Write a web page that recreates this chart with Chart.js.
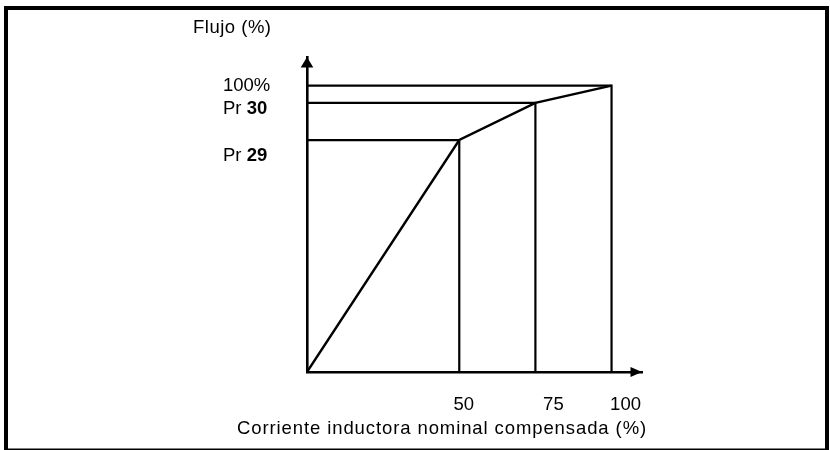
<!DOCTYPE html>
<html>
<head>
<meta charset="utf-8">
<script src="https://cdn.jsdelivr.net/npm/chart.js@4.4.1/dist/chart.umd.min.js"></script>
<style>
  html, body { margin: 0; padding: 0; background: #fff; }
  #wrap { width: 830px; height: 450px; }
</style>
</head>
<body>
<div id="wrap"><canvas id="chart"></canvas></div>
<script>
// curve breakpoints (schematic: Pr 29 / Pr 30)
const currentPct = [0, 50, 75, 100];
const fluxPct = [0, 81, 94, 100];

// tick labels
const xTickValues = [50, 75, 100];
const xTickLabels = ['50', '75', '100'];
const yTickValues = [100, 94, 81];
const yTickPrefix = ['100%', 'Pr ', 'Pr '];
const yTickBold = ['', '30', '29'];

const yTitle = 'Flujo (%)';
const xTitle = 'Corriente inductora nominal compensada (%)';

const FONT = "'Liberation Sans', Arial, sans-serif";

const curve = currentPct.map((x, i) => ({ x: x, y: fluxPct[i] }));

// L-shaped guide from the y axis to each breakpoint and down to the x axis
const guides = currentPct.slice(1).map((x, i) => ({
    data: [{ x: 0, y: fluxPct[i + 1] }, { x: x, y: fluxPct[i + 1] }, { x: x, y: 0 }],
    borderColor: '#000',
    borderWidth: 2.2,
    pointRadius: 0,
    showLine: true,
    borderJoinStyle: 'miter'
}));

// arrows, labels and the frame round the figure
const decorations = {
    id: 'decorations',
    afterDraw(chart) {
        const ctx = chart.ctx;
        const xs = chart.scales.x;
        const ys = chart.scales.y;
        const area = chart.chartArea;
        const x0 = xs.getPixelForValue(0);
        const y0 = ys.getPixelForValue(0);
        // the drawing puts its labels a little off the lines
        const yNudge = [5, 11.5, 20.5];
        const xNudge = [4.5, 18, 14];

        ctx.save();
        ctx.fillStyle = '#000';

        // y arrow
        ctx.beginPath();
        ctx.moveTo(x0, area.top);
        ctx.lineTo(x0 - 6.3, area.top + 10.5);
        ctx.lineTo(x0 + 6.3, area.top + 10.5);
        ctx.closePath();
        ctx.fill();

        // x arrow
        ctx.beginPath();
        ctx.moveTo(area.right, y0);
        ctx.lineTo(area.right - 11.5, y0 - 5);
        ctx.lineTo(area.right - 11.5, y0 + 5);
        ctx.closePath();
        ctx.fill();

        // y labels
        ctx.textBaseline = 'alphabetic';
        ctx.textAlign = 'left';
        yTickValues.forEach((v, i) => {
            const py = ys.getPixelForValue(v) + yNudge[i];
            const lx = x0 - 84;
            ctx.font = '18.5px ' + FONT;
            ctx.fillText(yTickPrefix[i], lx, py);
            if (yTickBold[i]) {
                const w = ctx.measureText(yTickPrefix[i]).width;
                ctx.font = 'bold 18.5px ' + FONT;
                ctx.fillText(yTickBold[i], lx + w, py);
            }
        });

        // x labels
        ctx.font = '18.5px ' + FONT;
        ctx.textAlign = 'center';
        xTickValues.forEach((v, i) => {
            ctx.fillText(xTickLabels[i], xs.getPixelForValue(v) + xNudge[i], y0 + 38);
        });

        // titles
        ctx.textAlign = 'left';
        ctx.letterSpacing = '0.5px';
        ctx.fillText(yTitle, x0 - 114, 33);
        ctx.letterSpacing = '0.9px';
        ctx.fillText(xTitle, x0 - 70, y0 + 62);
        ctx.letterSpacing = '0px';

        // frame
        ctx.strokeStyle = '#000';
        ctx.lineWidth = 4;
        ctx.strokeRect(6, 8, 821, 442.5);
        ctx.restore();
    }
};

new Chart(document.getElementById('chart'), {
    type: 'scatter',
    data: {
        datasets: [{
            data: curve,
            borderColor: '#000',
            borderWidth: 2.4,
            pointRadius: 0,
            showLine: true,
            borderJoinStyle: 'miter'
        }].concat(guides)
    },
    options: {
        responsive: true,
        maintainAspectRatio: false,
        animation: false,
        events: [],
        layout: { padding: { left: 307, right: 188, top: 57, bottom: 78 } },
        plugins: {
            legend: { display: false },
            tooltip: { enabled: false }
        },
        scales: {
            x: {
                type: 'linear',
                min: 0,
                max: 110,
                grid: { display: false, drawTicks: false },
                ticks: { display: false },
                border: { display: true, color: '#000', width: 2.6 }
            },
            y: {
                type: 'linear',
                min: 0,
                max: 110,
                grid: { display: false, drawTicks: false },
                ticks: { display: false },
                border: { display: true, color: '#000', width: 2.6 }
            }
        }
    },
    plugins: [decorations]
});
</script>
</body>
</html>
